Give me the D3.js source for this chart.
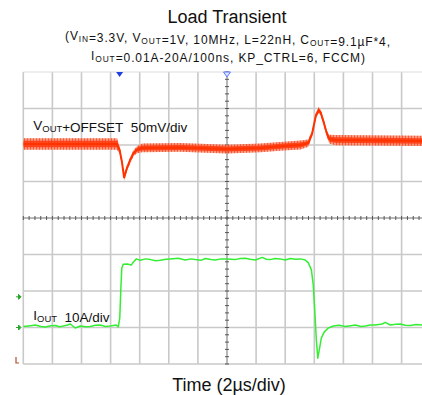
<!DOCTYPE html>
<html>
<head>
<meta charset="utf-8">
<script src="https://cdn.jsdelivr.net/npm/d3@7"></script>
<style>
  html, body { margin: 0; padding: 0; background: #fff; }
  svg { display: block; font-family: "Liberation Sans", Arial, sans-serif; }
</style>
</head>
<body>
<svg id="chart" width="422" height="395"></svg>
<script>
// Output voltage trace: time (µs, 0 = centre graticule), deviation (mV), band half-width (mV)
const voutTime = [-14, -7.56, -7.38, -7.22, -7.07, -6.92, -6.65, -6.42, -6.17, -5.83, -3.21, 0, 2.29, 3.87, 5.04, 5.59, 5.86, 6.10, 6.30, 6.45, 6.64, 6.87, 7.03, 7.44, 13.42];
const voutMv   = [1.4, 1.4, -6.8, -23.3, -45.0, -34.2, -20.5, -11.0, -6.2, -4.1, -3.4, -5.5, -4.1, -1.4, 0, 2.7, 16.4, 39.7, 47.9, 43.8, 31.5, 15.1, 8.2, 6.8, 5.5];
const voutBand = [8, 8, 5, 4, 4, 4, 4, 4, 5, 6, 6, 6, 6, 6, 6, 5, 4, 4, 4, 4, 4, 4, 6, 7, 7];

// Load current trace: time (µs), current (A)
const ioutTime = [-14, -13.5, -13.17, -12.8, -12.49, -12.1, -11.8, -11.5, -11.25, -10.95, -10.77, -10.43, -10.08, -9.7, -9.4, -9.05, -8.71, -8.35, -8.02, -7.61, -7.47, -7.37, -7.30, -7.23, -7.13, -6.85, -6.58, -6.44, -6.23, -5.96, -5.6, -5.27, -4.9, -4.58, -4.2, -3.90, -3.35, -2.87, -2.5, -2.18, -1.8, -1.49, -1.1, -0.80, -0.4, 0, 0.57, 0.9, 1.26, 1.6, 1.95, 2.43, 2.7, 2.98, 3.3, 3.66, 4.0, 4.35, 4.7, 5.04, 5.38, 5.59, 5.80, 5.93, 6.03, 6.14, 6.24, 6.34, 6.48, 6.69, 6.96, 7.31, 7.7, 8.13, 8.5, 8.82, 9.2, 9.51, 9.85, 10.19, 10.67, 10.88, 11.22, 11.6, 11.91, 12.25, 12.60, 13.0, 13.42];
const ioutAmp  = [0.27, 0.5, 0.68, 0.3, 0.14, 0.5, 0.55, 0.2, 0.41, 0.7, 0.96, -0.14, 0.41, 0.2, 0.27, 0.6, 0.68, 0.3, 0.41, 0.68, 0.14, 2.6, 10.3, 16.3, 17.3, 17.4, 17.1, 17.9, 18.8, 18.4, 18.8, 18.6, 18.3, 18.4, 18.7, 18.8, 19.0, 18.5, 18.8, 18.6, 18.4, 18.9, 18.6, 18.5, 18.8, 18.8, 18.6, 18.9, 19.0, 18.7, 18.5, 19.2, 18.7, 18.6, 18.9, 18.8, 18.5, 18.9, 18.7, 18.8, 18.5, 17.7, 15.8, 11.6, 4.8, -3.4, -8.4, -6.2, -2.9, -1.2, -0.14, 0.41, 0.6, 0.27, 0.5, 0.68, 0.3, 0.41, 0.7, 0.68, 0.96, 1.4, 0.68, 0.9, 0.96, 0.6, 0.55, 0.8, 0.68];

// Channel settings
const voutPerDiv = 50;   // mV/div
const voutOffsetDiv = 2; // divisions above centre
const ioutPerDiv = 10;   // A/div
const ioutOffsetDiv = -3;
// Reference-level markers on the left edge (divisions from centre)
const greenMarkDivs = [-3, -2.16];

const titleText = "Load Transient";
const xLabelText = "Time (2µs/div)";

const svg = d3.select("#chart");
const W = 422, H = 395;
const plot = { left: 23.3, top: 72, bottom: 364, right: 422 };
const divW = 29.1;

// Horizontal: 2 µs per division, 7 divisions left of centre
const x = d3.scaleLinear().domain([-14, 14]).range([plot.left, plot.left + 14 * divW]);
// Vertical: 8 divisions
const yDiv = d3.scaleLinear().domain([-4, 4]).range([plot.bottom, plot.top]);
const yV = v => yDiv(v / voutPerDiv + voutOffsetDiv);
const yI = a => yDiv(a / ioutPerDiv + ioutOffsetDiv);

svg.append("rect").attr("width", W).attr("height", H).attr("fill", "#fff");

const defs = svg.append("defs");
defs.append("clipPath").attr("id", "plotClip")
  .append("rect").attr("x", plot.left).attr("y", plot.top)
  .attr("width", plot.right - plot.left).attr("height", plot.bottom - plot.top);
const pat = defs.append("pattern").attr("id", "ripple")
  .attr("patternUnits", "userSpaceOnUse").attr("width", 3).attr("height", 10);
pat.append("rect").attr("width", 1).attr("height", 10).attr("fill", "#ff2200");

// Graticule
const grid = svg.append("g");
const vTimes = d3.range(-14, 14, 2);
grid.selectAll("line.v").data(vTimes).join("line")
  .attr("x1", d => x(d)).attr("x2", d => x(d))
  .attr("y1", plot.top).attr("y2", plot.bottom)
  .attr("stroke", "#c9c9c9").attr("stroke-width", 1.6);
const hDivs = d3.range(-4, 5, 1);
grid.selectAll("line.h").data(hDivs).join("line")
  .attr("x1", plot.left).attr("x2", plot.right)
  .attr("y1", d => yDiv(d)).attr("y2", d => yDiv(d))
  .attr("stroke", d => d === 4 ? "#dddddd" : "#c9c9c9")
  .attr("stroke-width", d => d === 4 ? 1 : 1.6);

// Centre axes with minor ticks
const cx = x(0), cy = yDiv(0);
grid.append("line").attr("x1", plot.left).attr("x2", plot.right)
  .attr("y1", cy).attr("y2", cy).attr("stroke", "#9a9a9a").attr("stroke-width", 1);
grid.append("line").attr("x1", cx).attr("x2", cx)
  .attr("y1", plot.top).attr("y2", plot.bottom).attr("stroke", "#9a9a9a").attr("stroke-width", 1);
const hTicks = d3.range(-14, 14.01, 0.4).filter(t => x(t) < plot.right);
grid.selectAll("line.ht").data(hTicks).join("line")
  .attr("x1", d => x(d)).attr("x2", d => x(d))
  .attr("y1", cy - 2).attr("y2", cy + 2)
  .attr("stroke", "#555").attr("stroke-width", 1);
const vTicks = d3.range(-4, 4.01, 0.2);
grid.selectAll("line.vt").data(vTicks).join("line")
  .attr("x1", cx - 2).attr("x2", cx + 2)
  .attr("y1", d => yDiv(d)).attr("y2", d => yDiv(d))
  .attr("stroke", "#555").attr("stroke-width", 1);

// Traces
const traces = svg.append("g").attr("clip-path", "url(#plotClip)");
const voutData = voutTime.map((t, i) => ({ t, v: voutMv[i], w: voutBand[i] }));
const bandOuter = d3.area().x(d => x(d.t)).y0(d => yV(d.v - d.w)).y1(d => yV(d.v + d.w));
const bandInner = d3.area().x(d => x(d.t)).y0(d => yV(d.v - d.w * 0.55)).y1(d => yV(d.v + d.w * 0.55));
traces.append("path").datum(voutData).attr("d", bandOuter)
  .attr("fill", "#ff7a55").attr("opacity", 0.75);
traces.append("path").datum(voutData).attr("d", bandOuter)
  .attr("fill", "url(#ripple)").attr("opacity", 0.55);
traces.append("path").datum(voutData).attr("d", bandInner)
  .attr("fill", "#ff3d12").attr("opacity", 0.9);
traces.append("path").datum(voutData)
  .attr("d", d3.line().x(d => x(d.t)).y(d => yV(d.v)))
  .attr("fill", "none").attr("stroke", "#ff3300").attr("stroke-width", 2);

const ioutData = ioutTime.map((t, i) => ({ t, a: ioutAmp[i] }));
traces.append("path").datum(ioutData)
  .attr("d", d3.line().x(d => x(d.t)).y(d => yI(d.a)))
  .attr("fill", "none").attr("stroke", "#33ee33").attr("stroke-width", 1.5)
  .attr("stroke-linejoin", "round");

// Trigger markers
const trigT = -7.38;
svg.append("path")
  .attr("d", `M${x(trigT) - 3.5},${plot.top} L${x(trigT) + 3.5},${plot.top} L${x(trigT)},${plot.top + 5} Z`)
  .attr("fill", "#1f3fe0");
svg.append("path")
  .attr("d", `M${cx - 3.5},${plot.top} L${cx + 3.5},${plot.top} L${cx},${plot.top + 5} Z`)
  .attr("fill", "#dfe4ff").attr("stroke", "#5a78ff").attr("stroke-width", 1);

// Channel ground markers on the left
svg.selectAll("path.gm").data(greenMarkDivs).join("path")
  .attr("d", d => { const yy = yDiv(d); return `M16,${yy} L20,${yy} M18.5,${yy - 2.5} L21,${yy} L18.5,${yy + 2.5} Z`; })
  .attr("fill", "#2aa52a").attr("stroke", "#2aa52a").attr("stroke-width", 1);
svg.append("path")
  .attr("d", `M16,${plot.bottom - 7} L16,${plot.bottom - 1} L19,${plot.bottom - 1}`)
  .attr("fill", "none").attr("stroke", "#b0502a").attr("stroke-width", 1.2);

// Text
const txt = svg.append("g").attr("fill", "#111");
txt.append("text").attr("x", 227).attr("y", 23).attr("text-anchor", "middle")
  .attr("font-size", 18).text(titleText);

function subText(xp, yp, parts, size, anchor, len) {
  const t = txt.append("text").attr("x", xp).attr("y", yp)
    .attr("text-anchor", anchor).attr("font-size", size);
  if (len) t.attr("textLength", len).attr("lengthAdjust", "spacing");
  parts.forEach(p => {
    if (p.sub) {
      t.append("tspan").attr("font-size", size * 0.7).attr("dy", size * 0.18).text(p.sub);
      t.append("tspan").attr("dy", -size * 0.18).text("");
    } else {
      t.append("tspan").text(p.s);
    }
  });
  return t;
}
subText(227.5, 39.5, [
  { s: "(V" }, { sub: "IN" }, { s: "=3.3V, V" }, { sub: "OUT" },
  { s: "=1V, 10MHz, L=22nH, C" }, { sub: "OUT" }, { s: "=9.1µF*4," }
], 12, "middle", 325);
subText(228, 59.5, [
  { s: "I" }, { sub: "OUT" }, { s: "=0.01A-20A/100ns, KP_CTRL=6, FCCM)" }
], 12, "middle", 274);

subText(33.3, 130, [{ s: "V" }, { sub: "OUT" }, { s: "+OFFSET\u00a0 50mV/div" }], 13.5, "start");
subText(33.3, 320, [{ s: "I" }, { sub: "OUT" }, { s: "\u00a0 10A/div" }], 13.5, "start");

txt.append("text").attr("x", 229).attr("y", 390.5).attr("text-anchor", "middle")
  .attr("font-size", 18).text(xLabelText);
</script>
</body>
</html>
